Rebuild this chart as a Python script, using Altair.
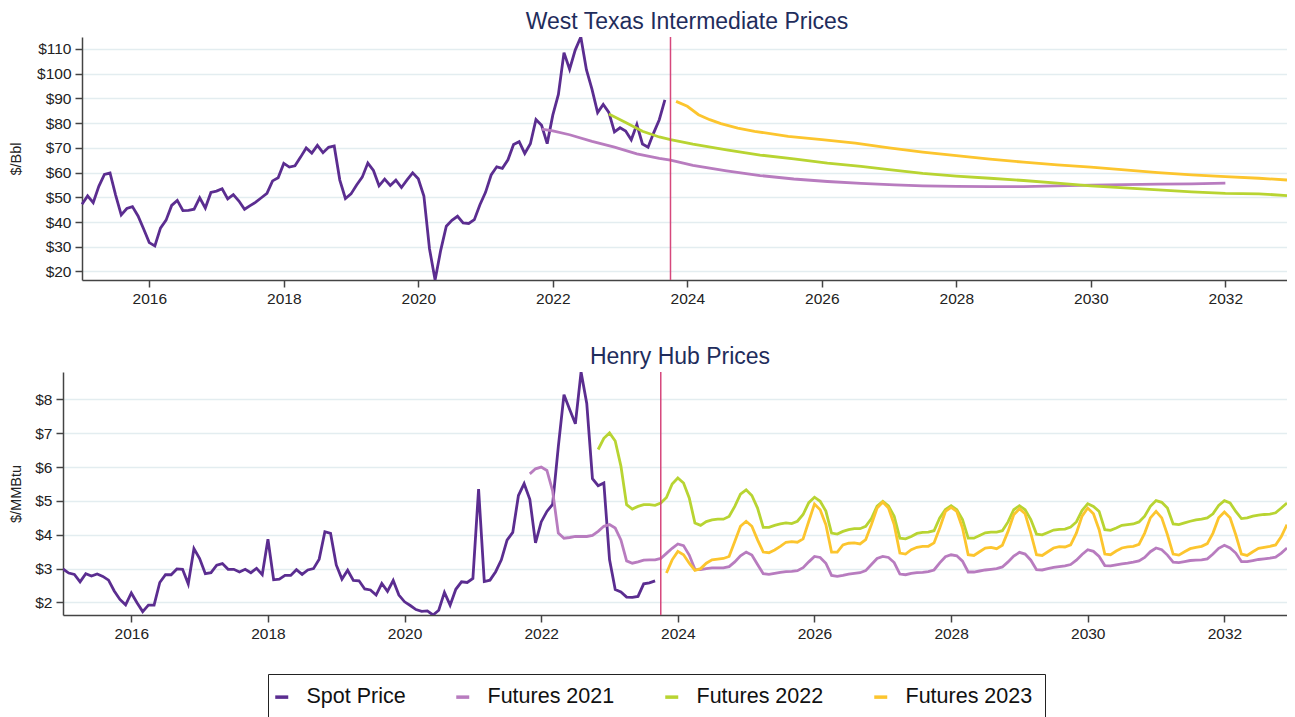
import altair as alt
import pandas as pd

# ---------------- data ----------------
series_names = ["Spot Price", "Futures 2021", "Futures 2022", "Futures 2023"]
series_colors = ["#5b2d90", "#b87cbf", "#b8d432", "#fcc52e"]
cutoff = "2023-10"
xtick_years = [2016, 2018, 2020, 2022, 2024, 2026, 2028, 2030, 2032]
x_start, x_end = "2015-01", "2032-12"

# WTI spot, monthly from Jan 2015
wti_spot_start = "2015-01"
wti_spot = [
    47.22, 50.58, 47.82, 54.45, 59.27, 59.82, 50.90, 42.87, 45.48, 46.22, 42.44, 37.19,
    31.68, 30.32, 37.55, 40.75, 46.71, 48.76, 44.65, 44.72, 45.18, 49.78, 45.66, 51.97,
    52.50, 53.47, 49.33, 51.06, 48.48, 45.18, 46.63, 48.04, 49.82, 51.58, 56.64, 57.88,
    63.70, 62.23, 62.73, 66.25, 69.98, 67.87, 70.98, 68.06, 70.23, 70.75, 56.96, 49.52,
    51.38, 54.95, 58.15, 63.86, 60.83, 54.66, 57.35, 54.81, 56.95, 53.96, 57.03, 59.88,
    57.52, 50.54, 29.21, 16.55, 28.56, 38.31, 40.71, 42.34, 39.63, 39.40, 40.94, 47.02,
    52.00, 59.04, 62.33, 61.72, 65.17, 71.38, 72.49, 67.73, 71.65, 81.48, 79.15, 71.71,
    83.22, 91.64, 108.50, 101.78, 109.55, 114.84, 101.62, 93.67, 84.26, 87.55, 84.37, 76.44,
    78.12, 76.83, 73.28, 79.45, 71.58, 70.25, 76.07, 81.39, 89.43,
]

# WTI futures curves (read points)
wti_f21_dates = ["2021-11", "2022-01", "2022-04", "2022-08", "2022-12", "2023-04", "2023-08",
                 "2023-10", "2024-02", "2024-08", "2025-02", "2025-08", "2026-02", "2026-08",
                 "2027-02", "2027-07", "2028-01", "2028-07", "2029-01", "2029-07", "2030-01",
                 "2030-07", "2031-01", "2031-07", "2032-01"]
wti_f21 = [77.6, 76.9, 75.3, 72.6, 70.3, 67.6, 65.7, 65.0, 62.9, 60.7, 58.8, 57.4, 56.4, 55.6,
           55.0, 54.6, 54.4, 54.3, 54.3, 54.6, 54.9, 55.1, 55.3, 55.4, 55.7]

wti_f22_dates = ["2022-11", "2023-02", "2023-05", "2023-08", "2023-10", "2024-02", "2024-08",
                 "2025-02", "2025-08", "2026-02", "2026-08", "2027-01", "2027-07", "2028-01",
                 "2028-07", "2029-01", "2029-07", "2030-01", "2030-07", "2031-01", "2031-07",
                 "2032-01", "2032-07", "2032-12"]
wti_f22 = [83.7, 80.3, 76.7, 74.4, 73.3, 71.5, 69.2, 67.1, 65.5, 63.8, 62.5, 61.2, 59.7, 58.6,
           57.7, 56.8, 55.7, 54.6, 53.8, 53.0, 52.2, 51.6, 51.4, 50.7]

wti_f23_dates = ["2023-11", "2024-01", "2024-03", "2024-05", "2024-07", "2024-10", "2025-01",
                 "2025-07", "2026-01", "2026-07", "2027-01", "2027-07", "2028-01", "2028-07",
                 "2029-01", "2029-07", "2030-01", "2030-07", "2031-01", "2031-07", "2032-01",
                 "2032-07", "2032-12"]
wti_f23 = [88.8, 86.8, 83.4, 81.4, 79.8, 78.0, 76.7, 74.6, 73.3, 71.9, 70.0, 68.3, 66.9, 65.4,
           64.2, 63.1, 62.2, 61.1, 60.0, 59.1, 58.4, 57.7, 57.0]

# Henry Hub spot, monthly from Jan 2015
hh_spot_start = "2015-01"
hh_spot = [
    2.99, 2.87, 2.83, 2.61, 2.85, 2.78, 2.84, 2.77, 2.66, 2.34, 2.09, 1.93,
    2.28, 1.99, 1.73, 1.92, 1.92, 2.59, 2.82, 2.82, 2.99, 2.98, 2.55, 3.59,
    3.30, 2.85, 2.88, 3.10, 3.15, 2.98, 2.98, 2.90, 2.98, 2.88, 3.01, 2.82,
    3.87, 2.67, 2.69, 2.80, 2.80, 2.97, 2.83, 2.96, 3.00, 3.28, 4.09, 4.04,
    3.11, 2.69, 2.95, 2.65, 2.64, 2.40, 2.37, 2.22, 2.56, 2.33, 2.65, 2.22,
    2.02, 1.91, 1.79, 1.74, 1.75, 1.63, 1.77, 2.30, 1.92, 2.39, 2.61, 2.59,
    2.71, 5.35, 2.62, 2.66, 2.91, 3.26, 3.84, 4.07, 5.16, 5.51, 5.05, 3.76,
    4.38, 4.69, 4.90, 6.60, 8.14, 7.70, 7.28, 8.81, 7.88, 5.66, 5.45, 5.53,
    3.27, 2.38, 2.31, 2.16, 2.15, 2.18, 2.55, 2.58, 2.64,
]

# Henry Hub futures curves, monthly
hh_f21_start = "2021-11"
hh_f21 = [
    5.80, 5.95,
    6.00, 5.90, 5.30, 4.05, 3.90, 3.92, 3.95, 3.95, 3.95, 3.98, 4.10, 4.25,
    4.30, 4.20, 3.85, 3.23, 3.16, 3.20, 3.25, 3.26, 3.26, 3.30, 3.45, 3.60,
    3.73, 3.68, 3.40, 2.98, 2.97, 3.00, 3.02, 3.02, 3.02, 3.06, 3.20, 3.38,
    3.49, 3.40, 3.12, 2.85, 2.83, 2.86, 2.89, 2.91, 2.92, 2.94, 3.03, 3.20,
    3.36, 3.33, 3.16, 2.80, 2.77, 2.80, 2.84, 2.86, 2.88, 2.94, 3.12, 3.30,
    3.36, 3.33, 3.18, 2.84, 2.82, 2.86, 2.88, 2.89, 2.91, 2.96, 3.17, 3.35,
    3.41, 3.38, 3.22, 2.90, 2.90, 2.93, 2.96, 2.98, 3.00, 3.05, 3.20, 3.37,
    3.48, 3.43, 3.25, 2.97, 2.96, 3.00, 3.04, 3.06, 3.08, 3.12, 3.25, 3.42,
    3.56, 3.51, 3.36, 3.09, 3.08, 3.11, 3.14, 3.16, 3.19, 3.23, 3.33, 3.50,
    3.61, 3.56, 3.40, 3.19, 3.18, 3.21, 3.24, 3.25, 3.26, 3.29, 3.43, 3.60,
    3.69, 3.61, 3.46, 3.21, 3.21, 3.24, 3.27, 3.29, 3.31, 3.34, 3.46, 3.61,
]
hh_f22_start = "2022-11"
hh_f22 = [
    6.52, 6.85,
    7.01, 6.77, 6.03, 4.89, 4.76, 4.84, 4.89, 4.89, 4.87, 4.94, 5.10, 5.50,
    5.68, 5.53, 5.09, 4.35, 4.28, 4.39, 4.44, 4.46, 4.46, 4.54, 4.84, 5.20,
    5.33, 5.16, 4.79, 4.22, 4.22, 4.28, 4.32, 4.35, 4.33, 4.40, 4.60, 4.95,
    5.11, 4.99, 4.70, 4.05, 4.02, 4.10, 4.15, 4.18, 4.18, 4.25, 4.48, 4.85,
    4.99, 4.85, 4.55, 3.90, 3.88, 3.95, 4.04, 4.07, 4.08, 4.12, 4.50, 4.75,
    4.86, 4.74, 4.45, 3.90, 3.90, 3.98, 4.06, 4.08, 4.08, 4.12, 4.38, 4.74,
    4.86, 4.74, 4.45, 4.02, 4.00, 4.07, 4.14, 4.16, 4.17, 4.23, 4.38, 4.72,
    4.92, 4.84, 4.69, 4.15, 4.13, 4.20, 4.28, 4.30, 4.32, 4.38, 4.55, 4.84,
    5.01, 4.96, 4.79, 4.32, 4.30, 4.35, 4.40, 4.44, 4.46, 4.50, 4.62, 4.87,
    5.01, 4.94, 4.69, 4.48, 4.50, 4.55, 4.58, 4.60, 4.61, 4.65, 4.79, 4.94,
]
hh_f23_start = "2023-11"
hh_f23 = [
    2.87, 3.26,
    3.51, 3.41, 3.16, 2.95, 3.00, 3.16, 3.26, 3.28, 3.30, 3.36, 3.80, 4.25,
    4.40, 4.25, 3.85, 3.49, 3.47, 3.55, 3.66, 3.78, 3.80, 3.78, 3.88, 4.40,
    4.91, 4.74, 4.30, 3.49, 3.49, 3.70, 3.75, 3.76, 3.73, 3.86, 4.30, 4.79,
    4.97, 4.79, 4.30, 3.46, 3.43, 3.56, 3.63, 3.66, 3.66, 3.76, 4.20, 4.69,
    4.81, 4.69, 4.20, 3.41, 3.39, 3.50, 3.61, 3.63, 3.59, 3.69, 4.10, 4.59,
    4.77, 4.62, 4.05, 3.41, 3.39, 3.50, 3.61, 3.65, 3.64, 3.70, 4.05, 4.55,
    4.79, 4.62, 4.15, 3.43, 3.41, 3.52, 3.61, 3.64, 3.66, 3.72, 4.05, 4.50,
    4.69, 4.50, 4.00, 3.43, 3.40, 3.50, 3.59, 3.63, 3.66, 3.74, 4.05, 4.50,
    4.67, 4.50, 4.00, 3.43, 3.39, 3.50, 3.60, 3.63, 3.66, 3.70, 3.95, 4.30,
]

wti_yticks = [20, 30, 40, 50, 60, 70, 80, 90, 100, 110]
hh_yticks = [2, 3, 4, 5, 6, 7, 8]


# ---------------- helpers ----------------
def ym(s):
    y, m = s.split("-")
    return int(y) + (int(m) - 1) / 12.0


def monthly(start, values, name):
    t0 = ym(start)
    return pd.DataFrame({"t": [t0 + i / 12.0 for i in range(len(values))],
                         "v": values, "series": name})


def points(dates, values, name):
    return pd.DataFrame({"t": [ym(d) for d in dates], "v": values, "series": name})


wti_df = pd.concat([
    monthly(wti_spot_start, wti_spot, "Spot Price"),
    points(wti_f21_dates, wti_f21, "Futures 2021"),
    points(wti_f22_dates, wti_f22, "Futures 2022"),
    points(wti_f23_dates, wti_f23, "Futures 2023"),
], ignore_index=True)

hh_df = pd.concat([
    monthly(hh_spot_start, hh_spot, "Spot Price"),
    monthly(hh_f21_start, hh_f21, "Futures 2021"),
    monthly(hh_f22_start, hh_f22, "Futures 2022"),
    monthly(hh_f23_start, hh_f23, "Futures 2023"),
], ignore_index=True)

FONT = "Liberation Sans"
xdom = [ym(x_start), ym(x_end)]
W = 1224
H = 243

legend = alt.Legend(
    title=None, orient="none", legendX=205, legendY=637, direction="horizontal",
    strokeColor="#222", fillColor="white", padding=12,
    labelFont=FONT, labelFontSize=21.5, labelColor="#111",
    symbolType="stroke", symbolStrokeWidth=3.5, symbolSize=169, symbolOffset=-9,
    labelOffset=14, columnPadding=43,
)


def panel(df, ydom, yvals, ytitle, title, shift, title_dx, tpad):
    x = alt.X("t:Q",
              scale=alt.Scale(domain=xdom, range=[shift, W], nice=False, zero=False),
              axis=alt.Axis(values=xtick_years, format="d", title=None, grid=False,
                            labelFlush=False, labelPadding=4))
    y = alt.Y("v:Q",
              scale=alt.Scale(domain=ydom, nice=False, zero=False),
              axis=alt.Axis(values=yvals, format="$d", title=ytitle, grid=True,
                            labelFlush=False, labelPadding=4, titlePadding=tpad,
                            offset=-shift))
    lines = alt.Chart(df).mark_line(strokeWidth=2.8, clip=True).encode(
        x=x, y=y,
        color=alt.Color("series:N",
                        scale=alt.Scale(domain=series_names, range=series_colors),
                        legend=legend),
    )
    rule = alt.Chart(pd.DataFrame({"t": [ym(cutoff)]})).mark_rule(
        color="#d6477c", strokeWidth=1.5).encode(x=alt.X("t:Q"))
    return alt.layer(lines, rule).properties(
        width=W, height=H,
        title=alt.TitleParams(title, font=FONT, fontSize=23, fontWeight="normal",
                              color="#1f2d5c", anchor="middle", offset=2.4, dx=title_dx),
    )


top = panel(wti_df, [min(wti_spot), max(wti_spot)], wti_yticks, "$/Bbl",
            "West Texas Intermediate Prices", 19, 12, 13)
bottom = panel(hh_df, [min(hh_spot), max(hh_spot)], hh_yticks, "$/MMBtu",
               "Henry Hub Prices", 0, 5, 11)

chart = alt.concat(top, bottom, columns=1, spacing=38).resolve_scale(
    x="independent", y="independent", color="shared"
).properties(
    padding={"left": 0, "top": 2, "right": 0, "bottom": 0}
).configure_view(stroke=None).configure_axis(
    labelFont=FONT, labelFontSize=15.5, labelColor="#222",
    titleFont=FONT, titleFontSize=14.5, titleColor="#222", titleFontWeight="normal",
    domainColor="#444", domainWidth=1.5, tickColor="#444", tickWidth=1.5, tickSize=7,
    gridColor="#e3edf0", gridWidth=1.5,
)

chart.save("out.html", embed_options={"renderer": "svg", "actions": False})
